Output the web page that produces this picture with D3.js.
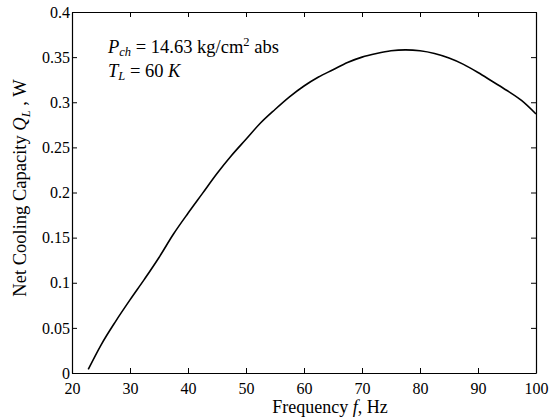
<!DOCTYPE html>
<html>
<head>
<meta charset="utf-8">
<script src="https://cdn.jsdelivr.net/npm/d3@7"></script>
<style>
  body { margin: 0; background: #fff; }
  .axis path, .axis line { stroke: #000; }
</style>
</head>
<body>
<div id="chart"></div>
<script>
// Net cooling capacity vs. frequency
const frequency = [22.8, 25, 27.5, 30, 32.5, 35, 37.5, 40, 42.5, 45, 47.5, 50,
  52.5, 55, 57.5, 60, 62.5, 65, 67.5, 70, 72.5, 75, 77.5, 80,
  82.5, 85, 87.5, 90, 92.5, 95, 97.5, 100];
const capacity = [0.004, 0.031, 0.057, 0.081, 0.104, 0.128, 0.154, 0.177, 0.199, 0.221, 0.241, 0.259,
  0.277, 0.292, 0.306, 0.318, 0.328, 0.336, 0.344, 0.350, 0.354, 0.357, 0.358, 0.357,
  0.354, 0.349, 0.342, 0.333, 0.323, 0.313, 0.302, 0.287];

const xTicks = [20, 30, 40, 50, 60, 70, 80, 90, 100];
const yTicks = [0, 0.05, 0.1, 0.15, 0.2, 0.25, 0.3, 0.35, 0.4];

const FONT = "'Liberation Serif', 'Times New Roman', Times, serif";
const W = 550, H = 420;
const margin = { top: 12, right: 14, bottom: 47, left: 72 };
const width = W - margin.left - margin.right;
const height = H - margin.top - margin.bottom;

const svg = d3.select("#chart").append("svg")
  .attr("width", W).attr("height", H)
  .attr("font-family", FONT);

const g = svg.append("g")
  .attr("transform", `translate(${margin.left},${margin.top})`);

const x = d3.scaleLinear().domain([20, 100]).range([0, width]);
const y = d3.scaleLinear().domain([0, 0.4]).range([height, 0]);

const fmtY = d => d === 0 ? "0" : String(+d.toFixed(2));

function styleAxis(sel) {
  sel.attr("font-family", FONT).attr("font-size", 16);
  sel.selectAll("text").attr("fill", "#000");
  sel.select(".domain").attr("stroke-width", 1.2);
}

// bottom + left axes with inward ticks
g.append("g").attr("class", "axis")
  .attr("transform", `translate(0,${height})`)
  .call(d3.axisBottom(x).tickValues(xTicks).tickSize(-5).tickSizeOuter(0).tickPadding(10))
  .call(styleAxis);

g.append("g").attr("class", "axis")
  .call(d3.axisLeft(y).tickValues(yTicks).tickSize(-5).tickSizeOuter(0).tickPadding(2).tickFormat(fmtY))
  .call(styleAxis);

// top + right axes, ticks only
g.append("g").attr("class", "axis")
  .call(d3.axisTop(x).tickValues(xTicks).tickSize(-5).tickSizeOuter(0).tickFormat(""))
  .call(styleAxis);

g.append("g").attr("class", "axis")
  .attr("transform", `translate(${width},0)`)
  .call(d3.axisRight(y).tickValues(yTicks).tickSize(-5).tickSizeOuter(0).tickFormat(""))
  .call(styleAxis);

// curve
const pts = frequency.map((f, i) => [f, capacity[i]]);
g.append("path")
  .datum(pts)
  .attr("fill", "none")
  .attr("stroke", "#000")
  .attr("stroke-width", 1.6)
  .attr("d", d3.line().x(d => x(d[0])).y(d => y(d[1])).curve(d3.curveMonotoneX));

// annotation
const ann = svg.append("g").attr("font-size", 18.5);
const t1 = ann.append("text").attr("x", 108).attr("y", 53);
t1.append("tspan").attr("font-style", "italic").text("P");
t1.append("tspan").attr("font-style", "italic").attr("font-size", 12.5).attr("dy", 3).text("ch");
t1.append("tspan").attr("dy", -3).text(" = 14.63 kg/cm");
t1.append("tspan").attr("font-size", 12.5).attr("dy", -7).text("2");
t1.append("tspan").attr("dy", 7).text(" abs");

const t2 = ann.append("text").attr("x", 108).attr("y", 77);
t2.append("tspan").attr("font-style", "italic").text("T");
t2.append("tspan").attr("font-style", "italic").attr("font-size", 12.5).attr("dy", 3).text("L");
t2.append("tspan").attr("dy", -3).text(" = 60 ");
t2.append("tspan").attr("font-style", "italic").text("K");

// x label
const xl = svg.append("text")
  .attr("x", 330).attr("y", 413)
  .attr("text-anchor", "middle").attr("font-size", 18);
xl.append("tspan").text("Frequency ");
xl.append("tspan").attr("font-style", "italic").text("f");
xl.append("tspan").text(", Hz");

// y label
const yl = svg.append("text")
  .attr("transform", "translate(26,188) rotate(-90)")
  .attr("text-anchor", "middle").attr("font-size", 18.5);
yl.append("tspan").text("Net Cooling Capacity ");
yl.append("tspan").attr("font-style", "italic").text("Q");
yl.append("tspan").attr("font-style", "italic").attr("font-size", 12.5).attr("dy", 4).text("L");
yl.append("tspan").attr("dy", -4).text(" , W");
</script>
</body>
</html>
